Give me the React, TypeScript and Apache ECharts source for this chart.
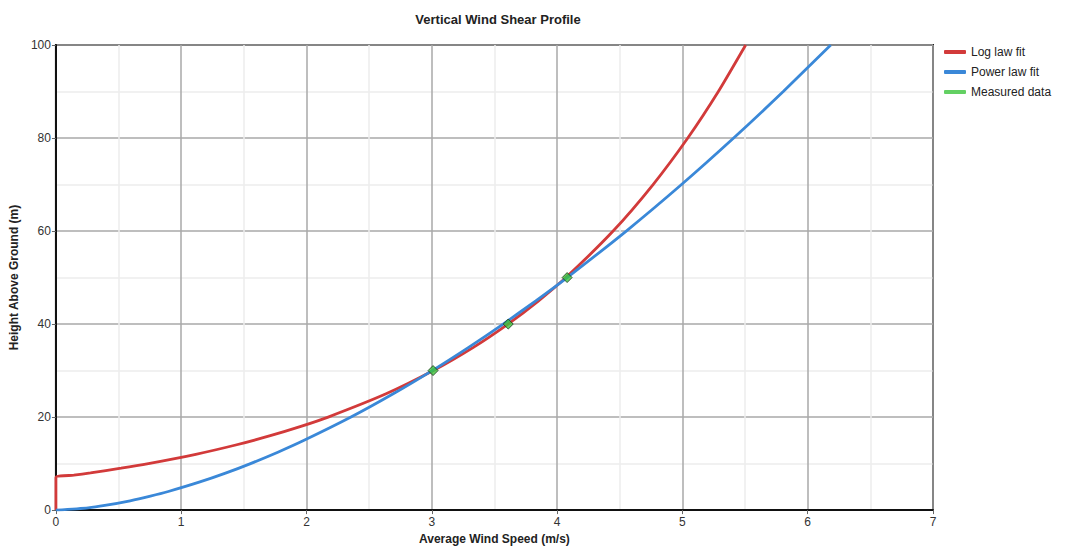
import React, { useEffect, useRef } from "react";
import * as echarts from "echarts";

const titleText = "Vertical Wind Shear Profile";
const xAxisTitle = "Average Wind Speed (m/s)";
const yAxisTitle = "Height Above Ground (m)";
const seriesNames = ["Log law fit", "Power law fit", "Measured data"];

// [speed m/s, height m]
const logLawFit: [number, number][] = [
  [0, 0], [0, 7], [0.143, 7.5], [0.276, 8], [0.52, 9], [0.738, 10], [1.116, 12],
  [1.435, 14], [1.711, 16], [1.955, 18], [2.173, 20], [2.635, 25], [3.012, 30],
  [3.332, 35], [3.608, 40], [3.852, 45], [4.07, 50], [4.447, 60], [4.766, 70],
  [5.043, 80], [5.287, 90], [5.505, 100],
];

const powerLawFit: [number, number][] = [
  [0, 0], [0.257, 0.5], [0.39, 1], [0.592, 2], [0.754, 3], [0.897, 4], [1.143, 6],
  [1.359, 8], [1.553, 10], [1.776, 12.5], [1.981, 15], [2.355, 20], [2.692, 25],
  [3.003, 30], [3.294, 35], [3.569, 40], [3.83, 45], [4.08, 50], [4.552, 60],
  [4.993, 70], [5.409, 80], [5.805, 90], [6.184, 100],
];

const measuredData: [number, number][] = [
  [3.01, 30], [3.61, 40], [4.08, 50],
];

const COLORS = ["#d23a3a", "#3a88d8", "#3cc43c"];
const FONT = "'Liberation Sans', Arial, sans-serif";

export default function App() {
  const ref = useRef<HTMLDivElement>(null);
  useEffect(() => {
    if (!ref.current) return;
    const chart = echarts.init(ref.current, undefined, { renderer: "svg" });
    chart.setOption({
      animation: false,
      backgroundColor: "#ffffff",
      textStyle: { fontFamily: FONT },
      title: {
        text: titleText,
        left: 493,
        top: 8,
        textAlign: "center",
        textStyle: { fontSize: 13, fontWeight: "bold", color: "#222", fontFamily: FONT },
      },
      legend: {
        orient: "vertical",
        left: 939,
        top: 40,
        itemWidth: 22,
        itemHeight: 4,
        itemGap: 6,
        icon: "roundRect",
        data: seriesNames.map((n) => ({ name: n, itemStyle: { borderWidth: 0 } })),
        textStyle: { fontSize: 12, color: "#222", lineHeight: 14, fontFamily: FONT },
      },
      grid: {
        left: 53,
        right: 145,
        top: 45,
        bottom: 34,
        show: true,
        borderColor: "#222",
        borderWidth: 2,
        backgroundColor: "transparent",
      },
      xAxis: {
        type: "value",
        min: 0,
        max: 7,
        interval: 1,
        name: xAxisTitle,
        nameLocation: "middle",
        nameGap: 21,
        nameTextStyle: { fontSize: 12, fontWeight: "bold", color: "#222", fontFamily: FONT },
        axisLine: { show: true, onZero: false, lineStyle: { color: "#111", width: 2 } },
        axisTick: { show: true, length: 4, lineStyle: { color: "#666" } },
        axisLabel: { fontSize: 12, color: "#333", margin: 6, fontFamily: FONT },
        splitLine: { show: true, lineStyle: { color: "#a8a8a8", width: 1.5 } },
        minorTick: { show: false, splitNumber: 2 },
        minorSplitLine: { show: true, lineStyle: { color: "#ececec", width: 1.5 } },
      },
      yAxis: {
        type: "value",
        min: 0,
        max: 100,
        interval: 20,
        name: yAxisTitle,
        nameLocation: "middle",
        nameGap: 33,
        nameRotate: 90,
        nameTextStyle: { fontSize: 12, fontWeight: "bold", color: "#222", fontFamily: FONT },
        axisLine: { show: true, onZero: false, lineStyle: { color: "#111", width: 2 } },
        axisTick: { show: true, length: 4, lineStyle: { color: "#666" } },
        axisLabel: { fontSize: 12, color: "#333", margin: 5, fontFamily: FONT },
        splitLine: { show: true, lineStyle: { color: "#a8a8a8", width: 1.5 } },
        minorTick: { show: false, splitNumber: 2 },
        minorSplitLine: { show: true, lineStyle: { color: "#ececec", width: 1.5 } },
      },
      series: [
        {
          name: seriesNames[0],
          type: "line",
          data: logLawFit,
          showSymbol: false,
          smooth: 0.2,
          color: COLORS[0],
          lineStyle: { color: COLORS[0], width: 2.8 },
          z: 3,
        },
        {
          name: seriesNames[1],
          type: "line",
          data: powerLawFit,
          showSymbol: false,
          smooth: 0.2,
          color: COLORS[1],
          lineStyle: { color: COLORS[1], width: 2.8 },
          z: 4,
        },
        {
          name: seriesNames[2],
          type: "scatter",
          data: measuredData,
          symbol: "diamond",
          symbolSize: 10,
          color: COLORS[2],
          itemStyle: { color: COLORS[2], borderColor: "#1a3a1a", borderWidth: 1 },
          z: 5,
        },
      ],
    });
    return () => chart.dispose();
  }, []);
  return (
    <div
      ref={ref}
      style={{ position: "fixed", left: 0, top: 0, width: 1078, height: 550 }}
    />
  );
}
